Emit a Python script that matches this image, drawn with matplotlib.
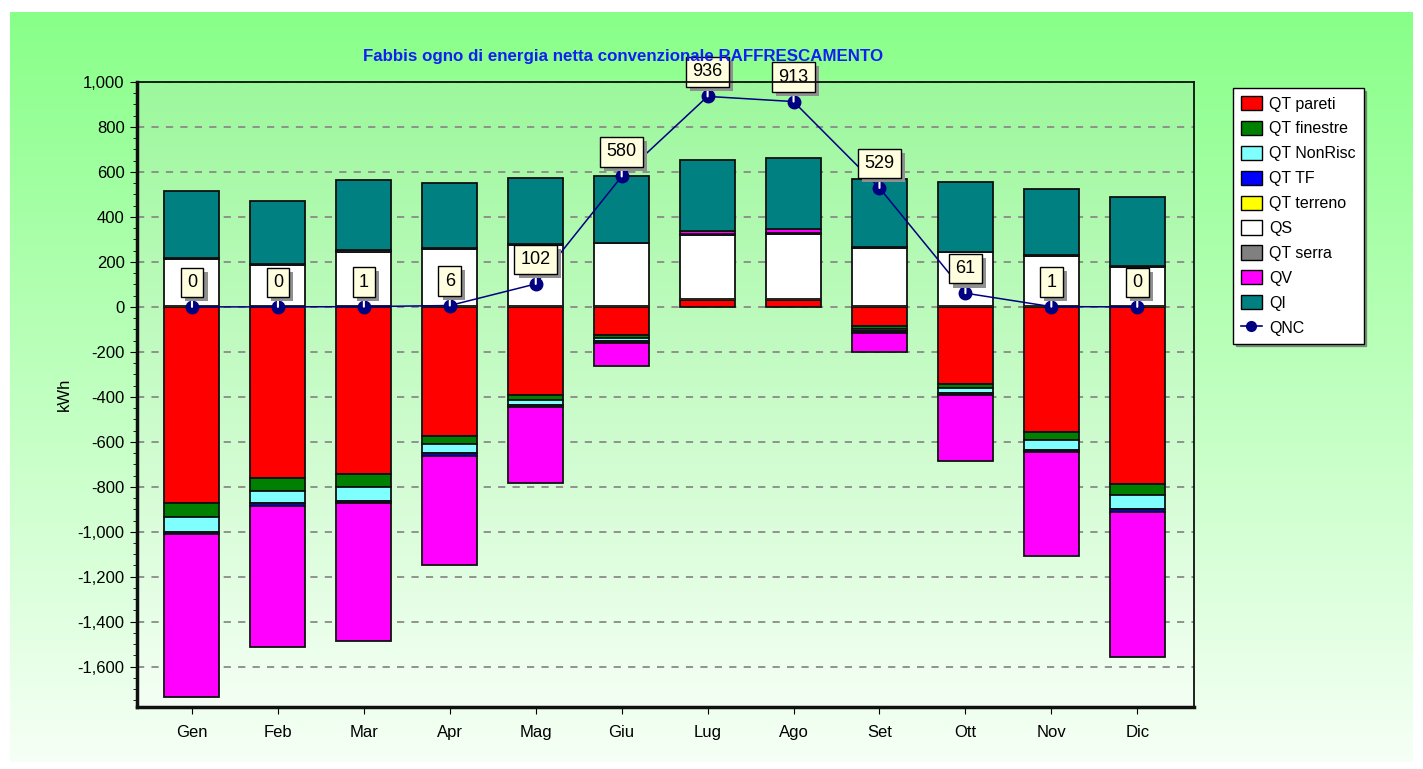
import numpy as np
import matplotlib
matplotlib.use("Agg")
import matplotlib.pyplot as plt
from matplotlib.patches import Patch
from matplotlib.lines import Line2D
import matplotlib.ticker as mtick
import matplotlib.patheffects as pe

plt.rcParams['font.family'] = ['Liberation Sans Narrow', 'Liberation Sans', 'DejaVu Sans']

mesi = ["Gen", "Feb", "Mar", "Apr", "Mag", "Giu", "Lug", "Ago", "Set", "Ott", "Nov", "Dic"]

# valori (kWh)
qt_pareti = [-872, -762, -745, -576, -393, -126, 30, 30, -86, -344, -555, -786]
qt_finestre = [-62, -55, -55, -35, -20, -12, 0, 0, -12, -18, -35, -50]
qt_nonrisc = [-66, -55, -62, -40, -22, -12, 0, 0, -8, -22, -45, -65]
qt_tf = [-8, -12, -8, -10, -10, -10, 0, 0, -8, -8, -10, -10]
qt_terreno = [3, 3, 3, 3, 3, 3, 6, 6, 3, 3, 3, 3]
qs = [211, 185, 240, 256, 273, 280, 283, 290, 260, 241, 224, 175]
qt_serra = [2, 4, 12, 2, 2, 3, 4, 4, 2, 2, 2, 2]
qv = [-726, -627, -616, -489, -339, -103, 16, 16, -86, -295, -465, -648]
qi = [300, 279, 309, 291, 296, 295, 316, 314, 303, 309, 296, 307]
qnc = [0, 0, 1, 6, 102, 580, 936, 913, 529, 61, 1, 0]

serie = [
    ("QT pareti", qt_pareti, "#FF0000"),
    ("QT finestre", qt_finestre, "#008000"),
    ("QT NonRisc", qt_nonrisc, "#80FFFF"),
    ("QT TF", qt_tf, "#0000FF"),
    ("QT terreno", qt_terreno, "#FFFF00"),
    ("QS", qs, "#FFFFFF"),
    ("QT serra", qt_serra, "#808080"),
    ("QV", qv, "#FF00FF"),
    ("QI", qi, "#008080"),
]

W, H = 1423, 769
fig = plt.figure(figsize=(W / 100, H / 100), dpi=100)
fig.patch.set_facecolor("white")

# sfondo verde sfumato
bg = fig.add_axes([10 / W, 1 - 762 / H, 1403 / W, 750 / H], zorder=-10)
grad = np.linspace(0, 1, 256).reshape(-1, 1)
top_c = np.array([0x88, 0xFF, 0x88]) / 255
bot_c = np.array([0xF6, 0xFF, 0xF6]) / 255
img = top_c[None, None, :] * (1 - grad[..., None]) + bot_c[None, None, :] * grad[..., None]
bg.imshow(img, aspect="auto", extent=[0, 1, 0, 1])
bg.axis("off")

ax = fig.add_axes([137 / W, 1 - 706.7 / H, (1194 - 137) / W, (706.7 - 82) / H])
ylo, yhi = -1778, 1000
ax.set_xlim(-0.64, 11.66)
ax.set_ylim(ylo, yhi)

# sfondo area grafico
top_p = np.array([0x9C, 0xF8, 0x9C]) / 255
bot_p = np.array([0xF4, 0xFF, 0xF4]) / 255
img2 = top_p[None, None, :] * (1 - grad[..., None]) + bot_p[None, None, :] * grad[..., None]
ax.imshow(img2, aspect="auto", extent=[-0.64, 11.66, ylo, yhi], zorder=0)

x = np.arange(len(mesi))
pos_base = np.zeros(len(mesi))
neg_base = np.zeros(len(mesi))
for nome, vals, col in serie:
    v = np.array(vals, dtype=float)
    bottoms = np.where(v >= 0, pos_base, neg_base)
    lw = 0 if nome == "QT terreno" else 1.3
    ax.bar(x, v, 0.64, bottom=bottoms, color=col, edgecolor="#101010", linewidth=lw, zorder=3)
    pos_base = pos_base + np.where(v > 0, v, 0)
    neg_base = neg_base + np.where(v < 0, v, 0)

ax.plot(x, qnc, color="#000080", lw=1.1, marker="o", ms=9, mfc="#000080", mec="#000080", zorder=5)

for xi, val in zip(x, qnc):
    t = ax.annotate(str(val), (xi, val), xytext=(0, 16), textcoords="offset pixels",
                    ha="center", va="bottom", fontsize=13, color="black",
                    bbox=dict(boxstyle="square,pad=0.35", fc="#FFFFE0", ec="black", lw=1),
                    arrowprops=dict(arrowstyle="-", color="white", lw=1.5, shrinkA=0, shrinkB=0),
                    zorder=7, annotation_clip=False)
    t.get_bbox_patch().set_path_effects([
        pe.SimplePatchShadow(offset=(3, -3), shadow_rgbFace="#909090", alpha=1.0),
        pe.Normal()])

ax.yaxis.set_major_locator(mtick.MultipleLocator(200))
ax.yaxis.set_minor_locator(mtick.MultipleLocator(50))
ax.yaxis.set_major_formatter(mtick.FuncFormatter(lambda v, p: f"{int(v):,}"))
ax.set_xticks(x)
ax.set_xticklabels(mesi)
ax.tick_params(axis="y", which="major", direction="out", length=5, labelsize=12, pad=4)
ax.tick_params(axis="y", which="minor", direction="out", length=3)
ax.tick_params(axis="x", direction="out", length=5, labelsize=12, pad=8)
ax.grid(axis="y", which="major", color="#8A8A8A", linestyle=(0, (4, 4)), lw=1.3, zorder=1)
ax.set_axisbelow(False)
for gl in ax.get_ygridlines():
    gl.set_zorder(1)

for s in ["left", "bottom"]:
    ax.spines[s].set_linewidth(2.5)
for s in ["top", "right"]:
    ax.spines[s].set_linewidth(1.3)
for s in ax.spines.values():
    s.set_color("#101010")
    s.set_zorder(8)

ax.set_ylabel("kWh", fontsize=12, labelpad=4)

fig.text(623 / W, 1 - 57 / H, "Fabbis ogno di energia netta convenzionale RAFFRESCAMENTO",
         ha="center", va="center", fontsize=12.2, fontweight="bold", color="#1020F0", zorder=1)

handles = [Patch(facecolor=c, edgecolor="black", lw=1) for _, _, c in serie]
handles.append(Line2D([0], [0], color="#000080", lw=1.2, marker="o", ms=7, mfc="#000080"))
labels = [n for n, _, _ in serie] + ["QNC"]
leg = fig.legend(handles, labels, loc="upper left", bbox_to_anchor=(1233 / W, 1 - 88 / H),
                 borderaxespad=0, fontsize=11.5, frameon=True, fancybox=False, shadow=True,
                 framealpha=1, edgecolor="black", handlelength=1.3, handleheight=1.0,
                 labelspacing=0.58, handletextpad=0.45, borderpad=0.5)
leg.get_frame().set_linewidth(1.0)

fig.savefig("out.png", dpi=100)
